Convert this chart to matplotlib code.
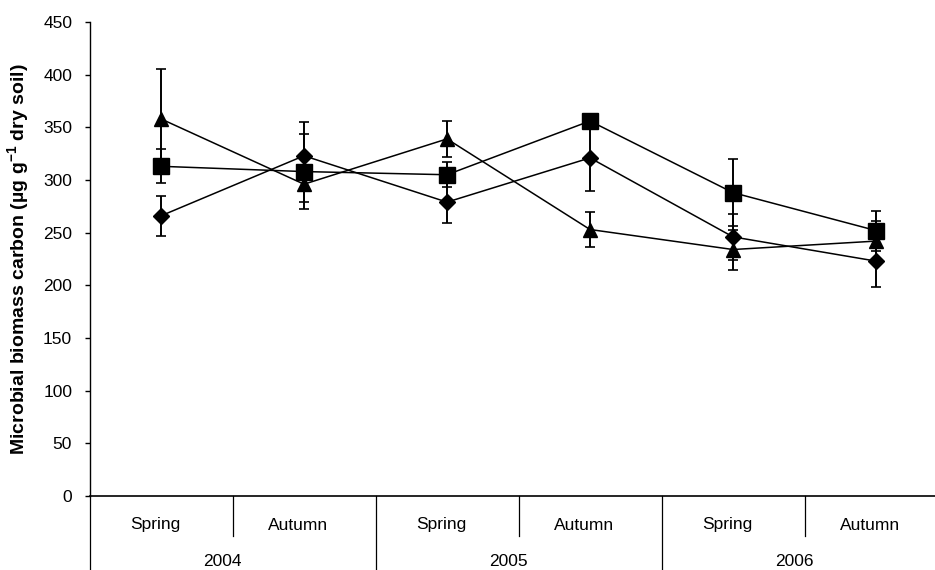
import matplotlib
matplotlib.use("Agg")
import matplotlib.pyplot as plt
import matplotlib.transforms as mtransforms

plt.rcParams['font.family'] = ['Liberation Sans', 'DejaVu Sans']
plt.rcParams['mathtext.fontset'] = 'custom'
plt.rcParams['mathtext.rm'] = 'Liberation Sans'
plt.rcParams['mathtext.bf'] = 'Liberation Sans:bold'

seasons = ["Spring", "Autumn", "Spring", "Autumn", "Spring", "Autumn"]
years = ["2004", "2005", "2006"]

# microbial biomass C per sampling date, mean and error
diamond_mean = [266, 323, 279, 321, 246, 223]
diamond_err = [19, 32, 20, 31, 22, 25]
square_mean = [313, 308, 305, 356, 288, 252]
square_err = [16, 36, 12, 5, 32, 19]
triangle_mean = [358, 296, 339, 253, 234, 242]
triangle_err = [47, 17, 17, 17, 19, 19]

W, H = 935, 570
fig = plt.figure(figsize=(W / 100, H / 100), dpi=100)
ax = fig.add_axes([89.5 / W, 74 / H, 858 / W, 474 / H])

x = [i + 0.5 for i in range(len(seasons))]
series = [
    (diamond_mean, diamond_err, "D", 8.5),
    (square_mean, square_err, "s", 11.5),
    (triangle_mean, triangle_err, "^", 10.5),
]
for mean, err, mk, ms in series:
    ax.errorbar(x, mean, yerr=err, color="black", marker=mk, markersize=ms,
                linewidth=1.1, elinewidth=1.4, capsize=3.5, capthick=1.2)

ax.set_xlim(0, 6)
ax.set_ylim(0, 450)
ax.set_yticks(range(0, 451, 50))
ax.tick_params(axis="y", direction="out", length=3.5, width=1, labelsize=12.5, pad=9)
ax.set_xticks([])
for s in ["top", "right"]:
    ax.spines[s].set_visible(False)
ax.spines["left"].set_linewidth(1)
ax.spines["bottom"].set_linewidth(1.2)

# two-level category axis below the plot
trans = mtransforms.blended_transform_factory(ax.transData, ax.transAxes)
for i in range(1, 6, 2):
    ax.plot([i, i], [0, -40 / 474], color="black", lw=0.9, transform=trans, clip_on=False)
for i in range(0, 7, 2):
    ax.plot([i, i], [0, -80 / 474], color="black", lw=0.9, transform=trans, clip_on=False)
season_tr = trans + mtransforms.ScaledTranslation(-6 / 100, 0, fig.dpi_scale_trans)
year_tr = trans + mtransforms.ScaledTranslation(-10 / 100, 0, fig.dpi_scale_trans)
for xi, s in zip(x, seasons):
    ax.text(xi, -29 / 474, s, transform=season_tr, ha="center", va="center", fontsize=12.5)
for j, yr in enumerate(years):
    ax.text(2 * j + 1, -65 / 474, yr, transform=year_tr, ha="center", va="center", fontsize=12.5)

ax.set_ylabel("Microbial biomass carbon (µg g$^{\\mathbf{-1}}$ dry soil)",
              fontsize=14, fontweight="bold")
ax.yaxis.set_label_coords(-57 / 858, 0.5)

fig.savefig("out.png", dpi=100)
